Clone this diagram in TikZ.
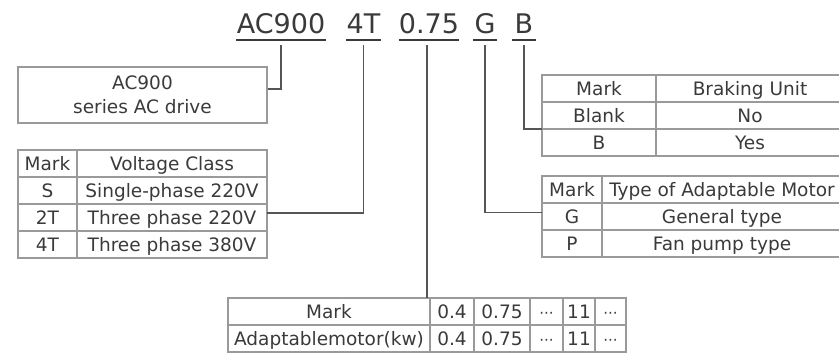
\documentclass[tikz,border=0pt]{standalone}
\usepackage{fontspec}
\setmainfont{DejaVu Sans}
\usepackage{tikz}
\usetikzlibrary{positioning}
\definecolor{txt}{HTML}{3A3A3A}
\definecolor{grid}{HTML}{9A9A9A}
\definecolor{wire}{HTML}{555555}

\begin{document}
\begin{tikzpicture}[x=1pt, y=-1pt, node distance=0pt,
		every node/.style={text=txt, font=\fontsize{18.5}{24}\selectfont},
		code/.style={inner sep=0pt, text height=19pt, text depth=7pt, font=\fontsize{27}{32}\selectfont},
		cell/.style={draw=grid, line width=1.2pt, outer sep=0pt, inner sep=0pt, minimum height=27pt, text height=13.5pt, text depth=0pt},
		dots/.style={font=\fontsize{15}{16}\selectfont},
		uline/.style={draw=txt, line width=2.5pt},
		link/.style={draw=wire, line width=1.5pt}]
		\path[use as bounding box, clip] (0,0) rectangle (839,354);

		% model code
		\node[code, minimum width=90pt] (ac) at (281,27) {AC900};
		\node[code, minimum width=33pt] (fourT) at (363.5,27) {4T};
		\node[code, minimum width=56pt] (kw) at (429,27) {0.75};
		\node[code, minimum width=24pt] (gt) at (485,27) {G};
		\node[code, minimum width=24pt] (bk) at (524,27) {B};
		\draw[uline] (ac.south west) -- (ac.south east);
		\draw[uline] (fourT.south west) -- (fourT.south east);
		\draw[uline] (kw.south west) -- (kw.south east);
		\draw[uline] (gt.south west) -- (gt.south east);
		\draw[uline] (bk.south west) -- (bk.south east);

		% series
		\node[draw=grid, line width=1.2pt, minimum width=249pt, minimum height=56pt, align=center] (drive) at (142.5,95) {AC900\\series AC drive};

		% voltage class
		\node[cell, minimum width=59pt] (v00) at (47.5,163.5) {Mark};
		\node[cell, minimum width=190pt] (v01) [right=of v00] {Voltage Class};
		\node[cell, minimum width=59pt] (v10) [below=of v00] {S};
		\node[cell, minimum width=190pt] (v11) [right=of v10] {Single-phase 220V};
		\node[cell, minimum width=59pt] (v20) [below=of v10] {2T};
		\node[cell, minimum width=190pt] (v21) [right=of v20] {Three phase 220V};
		\node[cell, minimum width=59pt] (v30) [below=of v20] {4T};
		\node[cell, minimum width=190pt] (v31) [right=of v30] {Three phase 380V};

		% braking unit
		\node[cell, minimum width=114pt] (b00) at (599,88.5) {Mark};
		\node[cell, minimum width=188pt] (b01) [right=of b00] {Braking Unit};
		\node[cell, minimum width=114pt] (b10) [below=of b00] {Blank};
		\node[cell, minimum width=188pt] (b11) [right=of b10] {No};
		\node[cell, minimum width=114pt] (b20) [below=of b10] {B};
		\node[cell, minimum width=188pt] (b21) [right=of b20] {Yes};

		% motor type
		\node[cell, minimum width=60pt] (t00) at (572,189.5) {Mark};
		\node[cell, minimum width=240pt] (t01) [right=of t00] {Type of Adaptable Motor};
		\node[cell, minimum width=60pt] (t10) [below=of t00] {G};
		\node[cell, minimum width=240pt] (t11) [right=of t10] {General type};
		\node[cell, minimum width=60pt] (t20) [below=of t10] {P};
		\node[cell, minimum width=240pt] (t21) [right=of t20] {Fan pump type};

		% motor power
		\node[cell, minimum width=202pt] (m00) at (329,311.5) {Mark};
		\node[cell, minimum width=44pt] (m01) [right=of m00] {0.4};
		\node[cell, minimum width=56pt] (m02) [right=of m01] {0.75};
		\node[cell, minimum width=33pt, dots] (m03) [right=of m02] {···};
		\node[cell, minimum width=32pt] (m04) [right=of m03] {11};
		\node[cell, minimum width=31pt, dots] (m05) [right=of m04] {···};
		\node[cell, minimum width=202pt] (m10) [below=of m00] {Adaptablemotor(kw)};
		\node[cell, minimum width=44pt] (m11) [right=of m10] {0.4};
		\node[cell, minimum width=56pt] (m12) [right=of m11] {0.75};
		\node[cell, minimum width=33pt, dots] (m13) [right=of m12] {···};
		\node[cell, minimum width=32pt] (m14) [right=of m13] {11};
		\node[cell, minimum width=31pt, dots] (m15) [right=of m14] {···};

		\draw[link] ([yshift=-5pt]ac.south) |- ([yshift=6pt]drive.east);
		\draw[link] ([yshift=-5pt]fourT.south) |- ([yshift=4.5pt]v21.east);
		\draw[link] ([xshift=-2pt,yshift=-5pt]kw.south) -- ([xshift=-2pt]kw.south |- m00.north);
		\draw[link] ([yshift=-5pt]gt.south) |- ([yshift=4pt]t10.west);
		\draw[link] ([yshift=-5pt]bk.south) |- (b20.north west);

	\end{tikzpicture}
\end{document}
